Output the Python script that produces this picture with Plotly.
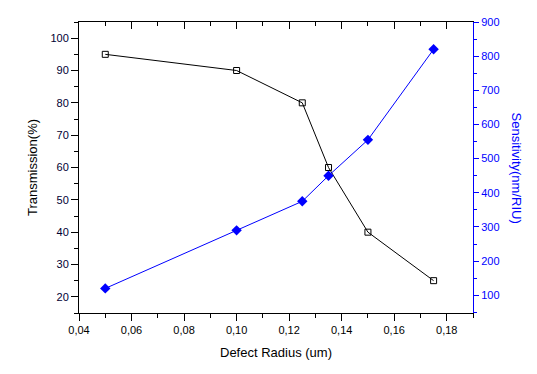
import plotly.graph_objects as go

radius = [0.05, 0.10, 0.125, 0.135, 0.15, 0.175]
transmission = [95, 90, 80, 60, 40, 25]
sensitivity = [120, 290, 375, 450, 555, 820]

BLUE = "#0000FF"
FONT = "Liberation Sans, Arial, sans-serif"

fig = go.Figure()
fig.add_trace(go.Scatter(
    x=radius, y=transmission, mode="lines+markers", name="Transmission",
    line=dict(color="black", width=1),
    marker=dict(symbol="square-open", size=6, color="black", line=dict(width=1)),
    yaxis="y", xaxis="x"))
fig.add_trace(go.Scatter(
    x=radius, y=sensitivity, mode="lines+markers", name="Sensitivity",
    line=dict(color=BLUE, width=1),
    marker=dict(symbol="diamond", size=8, color=BLUE),
    yaxis="y2", xaxis="x"))
# invisible trace for the top mirror axis
fig.add_trace(go.Scatter(x=[radius[0]], y=[transmission[0]], xaxis="x2", yaxis="y",
                         mode="markers", marker=dict(opacity=0), showlegend=False,
                         hoverinfo="skip"))

fig.update_layout(
    width=537, height=374,
    margin=dict(l=79, r=64, t=22, b=61),
    paper_bgcolor="white", plot_bgcolor="white",
    showlegend=False,
    separators=", ",
    font=dict(family=FONT, size=11, color="black"),
    xaxis=dict(
        range=[0.04, 0.19], tick0=0.04, dtick=0.02, tickformat=".2f", automargin=False,
        showgrid=False, zeroline=False, showline=True, linecolor="black", linewidth=1,
        ticks="outside", ticklen=7, tickcolor="black", tickwidth=1,
        minor=dict(dtick=0.01, tick0=0.04, ticks="outside", ticklen=4, tickcolor="black"),
        tickfont=dict(size=11, color="black"),
        title=dict(text="Defect Radius (um)", font=dict(size=13, color="black"), standoff=12),
    ),
    xaxis2=dict(
        range=[0.04, 0.19], tick0=0.04, dtick=0.02, overlaying="x", side="top",
        automargin=False,
        showgrid=False, zeroline=False, showline=True, linecolor="black", linewidth=1,
        ticks="inside", ticklen=7, tickcolor="black", showticklabels=False,
        minor=dict(dtick=0.01, tick0=0.04, ticks="inside", ticklen=4, tickcolor="black"),
    ),
    yaxis=dict(
        range=[15, 105], tick0=0, dtick=10, automargin=False,
        showgrid=False, zeroline=False, showline=True, linecolor="black", linewidth=1,
        ticks="outside", ticklen=7, tickcolor="black",
        minor=dict(dtick=5, tick0=0, ticks="outside", ticklen=4, tickcolor="black"),
        tickfont=dict(size=11, color="#000033"),
        title=dict(text="Transmission(%)", font=dict(size=13, color="black"), standoff=9),
    ),
    yaxis2=dict(
        range=[48, 900], tick0=0, dtick=100, overlaying="y", side="right", automargin=False,
        showgrid=False, zeroline=False, showline=True, linecolor=BLUE, linewidth=1,
        ticks="outside", ticklen=5, tickcolor=BLUE,
        minor=dict(dtick=50, tick0=0, ticks="outside", ticklen=3, tickcolor=BLUE),
        tickfont=dict(size=11, color=BLUE),
    ),
    annotations=[dict(
        text="Sensitivity(nm/RIU)", textangle=90, xref="paper", yref="paper",
        x=1.0, y=0.5, xshift=43, showarrow=False, xanchor="center", yanchor="middle",
        font=dict(size=13, color=BLUE, family=FONT))],
)

fig.write_html("out.html", config={"displayModeBar": False},
               post_script="document.body.style.margin='0';")
